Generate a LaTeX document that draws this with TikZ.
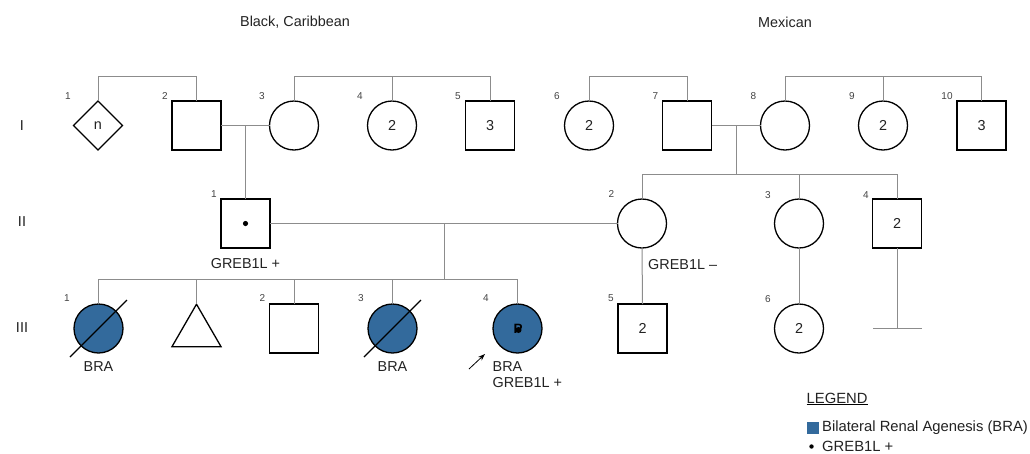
\documentclass[tikz,border=0pt]{standalone}
\usepackage{fontspec}
\setmainfont{Liberation Sans}
\usetikzlibrary{shapes.geometric,arrows.meta}
\definecolor{bra}{HTML}{336A9C}
\definecolor{conncol}{HTML}{8C8C8C}
\definecolor{txt}{HTML}{222222}
\tikzset{
  sym/.style={draw=black,line width=1.3pt,inner sep=0pt,outer sep=0pt,text=txt,font=\fontsize{14.4}{16}\selectfont},
  sq/.style={sym,rectangle,minimum size=49pt},
  ci/.style={sym,circle,minimum size=49pt},
  di/.style={sym,diamond,minimum size=49pt},
  tri/.style={sym,regular polygon,regular polygon sides=3,minimum size=56.6pt},
  aff/.style={fill=bra},
  conn/.style={draw=conncol,line width=1pt},
  num/.style={text=txt!85,font=\fontsize{10}{12}\selectfont,inner sep=0pt},
  lab/.style={text=txt,font=\fontsize{14.4}{16}\selectfont,inner sep=0pt},
  leglab/.style={text=txt,font=\fontsize{14.8}{16}\selectfont,inner sep=0pt},
  dec/.style={draw=black,line width=1.3pt},
}
\begin{document}
\begin{tikzpicture}[x=1pt,y=-1pt]
\useasboundingbox (0,0) rectangle (1030,453);
% titles
\node[lab] (t1) at (295,22) {Black, Caribbean};
\node[lab] (t2) at (785,22) {Mexican};
\node[lab] (g1) at (22,126) {I};
\node[lab] (g2) at (22,222) {II};
\node[lab] (g3) at (22,328) {III};
% generation I
\node[di] (i1) at (98,125.5) {n};
\node[sq] (i2) at (196.5,125.5) {};
\node[ci] (i3) at (294,125.5) {};
\node[ci] (i4) at (392,125.5) {2};
\node[sq] (i5) at (490,125.5) {3};
\node[ci] (i6) at (589,125.5) {2};
\node[sq] (i7) at (687,125.5) {};
\node[ci] (i8) at (785,125.5) {};
\node[ci] (i9) at (883,125.5) {2};
\node[sq] (i10) at (981.5,125.5) {3};
% generation II
\node[sq] (ii1) at (245.5,223.5) {};
\fill (ii1.center) circle (2.6pt);
\node[ci] (ii2) at (642,223.5) {};
\node[ci] (ii3) at (799,223.5) {};
\node[sq] (ii4) at (897,223.5) {2};
% generation III
\node[ci,aff] (iii1) at (98.5,328.5) {};
\node[tri] (tri) at (196.5,332.5) {};
\node[sq] (iii2) at (294,328.5) {};
\node[ci,aff] (iii3) at (392.5,328.5) {};
\node[ci,aff] (iii4) at (517.5,328.5) {};
\node[sq] (iii5) at (642.5,328.5) {2};
\node[ci] (iii6) at (799,328.5) {2};
% deceased lines
\draw[dec] (iii1.center) ++(-28.5,28.5) -- ++(57,-57);
\draw[dec] (iii3.center) ++(-28.5,28.5) -- ++(57,-57);
% proband
\node[lab,text=black,font=\fontsize{13.5}{14}\selectfont\bfseries] (pp) at (518,328.5) {P};
\fill (518.5,330) circle (3pt);
\coordinate (arrS) at (469,369);
\coordinate (arrE) at (485,354);
\draw[black,line width=0.8pt,-{Stealth[length=7pt,width=5pt]}] (arrS) -- (arrE);
% numbers
\node[num] (n1) at (68,96) {1};
\node[num] (n2) at (165,96) {2};
\node[num] (n3) at (262,96) {3};
\node[num] (n4) at (360,96) {4};
\node[num] (n5) at (458,96) {5};
\node[num] (n6) at (557,96) {6};
\node[num] (n7) at (655.5,96) {7};
\node[num] (n8) at (753.5,96) {8};
\node[num] (n9) at (852,96) {9};
\node[num] (n10) at (947,96) {10};
\node[num] (m1) at (214,194) {1};
\node[num] (m2) at (611.5,194) {2};
\node[num] (m3) at (768,195) {3};
\node[num] (m4) at (866,195) {4};
\node[num] (k1) at (67,298) {1};
\node[num] (k2) at (262.5,298) {2};
\node[num] (k3) at (361,298) {3};
\node[num] (k4) at (486,298) {4};
\node[num] (k5) at (611,298) {5};
\node[num] (k6) at (768,299) {6};
% text labels
\node[lab] (l1) at (245.5,263.5) {GREB1L +};
\node[lab,anchor=west] (l2) at (648,265) {GREB1L –};
\node[lab] (l3) at (98.5,367) {BRA};
\node[lab] (l4) at (392.5,367) {BRA};
\node[lab,anchor=west] (l5) at (492.5,367) {BRA};
\node[lab,anchor=west] (l6) at (492.5,383) {GREB1L +};
% connectors generation I
\coordinate (topy) at (0,76);
\draw[conn] (i1.north) -- (i1.north |- topy) -- (i2.north |- topy) -- (i2.north);
\draw[conn] (i3.north) -- (i3.north |- topy) -- (i5.north |- topy) -- (i5.north);
\draw[conn] (i4.north) -- (i4.north |- topy);
\draw[conn] (i6.north) -- (i6.north |- topy) -- (i7.north |- topy) -- (i7.north);
\draw[conn] (i8.north) -- (i8.north |- topy) -- (i10.north |- topy) -- (i10.north);
\draw[conn] (i9.north) -- (i9.north |- topy);
\draw[conn] (i2.east) -- (i3.west);
\draw[conn] (i7.east) -- (i8.west);
\draw[conn] (ii1.north) -- (ii1.north |- i2.east);
\coordinate (mx) at (736,174);
\draw[conn] (mx |- i7.east) -- (mx);
\draw[conn] (ii2.north) -- (ii2.north |- mx) -- (ii4.north |- mx) -- (ii4.north);
\draw[conn] (ii3.north) -- (ii3.north |- mx);
% generation II connectors
\draw[conn] (ii1.east) -- (ii2.west);
\coordinate (cx) at (444,279);
\draw[conn] (cx |- ii1.east) -- (cx);
\draw[conn] (iii1.north) -- (iii1.north |- cx) -- (iii4.north |- cx) -- (iii4.north);
\draw[conn] (tri.north) -- (tri.north |- cx);
\draw[conn] (iii2.north) -- (iii2.north |- cx);
\draw[conn] (iii3.north) -- (iii3.north |- cx);
\draw[conn] (ii2.south) -- (iii5.north);
\draw[conn] (ii3.south) -- (iii6.north);
\coordinate (nob) at (897,328);
\draw[conn] (ii4.south) -- (nob);
\coordinate (nobL) at (873,328);
\coordinate (nobR) at (922,328);
\draw[conn] (nobL) -- (nobR);
% legend
\node[leglab,anchor=west] (leg) at (806.5,398) {LEGEND};
\draw[black,line width=0.8pt] ([yshift=-1pt]leg.south west) -- ([yshift=-1pt]leg.south east);
\node[fill=bra,minimum size=12pt,inner sep=0pt] (legsq) at (813,428) {};
\node[leglab,anchor=west] (legt1) at (822,428) {Bilateral Renal Agenesis (BRA)};
\fill[black] (811.5,446.5) circle (2.2pt);
\node[leglab,anchor=west] (legt2) at (822,446) {GREB1L +};
\end{tikzpicture}
\end{document}
